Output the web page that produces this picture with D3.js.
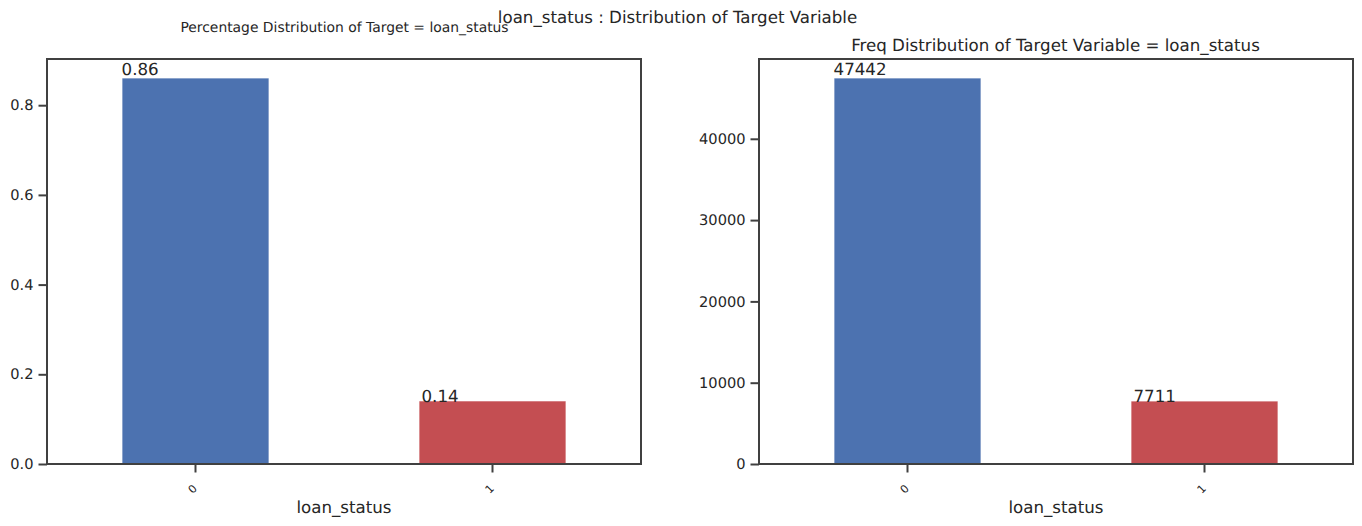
<!DOCTYPE html>
<html>
<head>
<meta charset="utf-8">
<script src="https://cdn.jsdelivr.net/npm/d3@7"></script>
<style>
  html, body { margin: 0; padding: 0; background: #fff; }
  svg { display: block; }
  text { font-family: "DejaVu Sans", sans-serif; fill: #262626; text-rendering: geometricPrecision; }
</style>
</head>
<body>
<div id="chart"></div>
<script>
const categories = ["0", "1"];
const percentValues = [0.86, 0.14];
const percentLabels = ["0.86", "0.14"];
const freqValues = [47442, 7711];
const freqLabels = ["47442", "7711"];
const percentTicks = [0, 0.2, 0.4, 0.6, 0.8];
const freqTicks = [0, 10000, 20000, 30000, 40000];
const barColors = ["#4c72b0", "#c44e52"];

const svg = d3.select("#chart").append("svg")
    .attr("width", 1362).attr("height", 526);

const plotTop = 59, plotBottom = 464;

function drawPanel(left, right, values, labels, ticks, yMax, tickFormat) {
    let x = d3.scaleBand().domain(categories).range([left, right])
        .paddingInner(0.507).paddingOuter(0.2535);
    let y = d3.scaleLinear().domain([0, yMax]).range([plotBottom, plotTop]);
    let g = svg.append("g");

    // Bars
    g.selectAll("rect").data(values).enter().append("rect")
        .attr("x", (d, i) => x(categories[i]))
        .attr("y", d => y(d))
        .attr("width", x.bandwidth())
        .attr("height", d => plotBottom - y(d))
        .attr("fill", (d, i) => barColors[i])
        .attr("stroke", "#fff")
        .attr("stroke-opacity", 0.15);

    // Value labels: placed at 1.01 x the bar's corner, so the offset grows with position and height
    g.selectAll(".val").data(values).enter().append("text")
        .attr("class", "val")
        .attr("x", (d, i) => x(categories[i]) + (i - 0.25) * 0.01 * x.step())
        .attr("y", d => y(d * 1.01) + 1)
        .style("font-size", "16.67px")
        .text((d, i) => labels[i]);

    // Axes
    let yAxis = g.append("g")
        .attr("transform", `translate(${left},0)`)
        .call(d3.axisLeft(y).tickValues(ticks).tickFormat(tickFormat).tickSize(8.5).tickPadding(5));
    yAxis.selectAll("text").style("font-size", "14.6px");

    let xAxis = g.append("g")
        .attr("transform", `translate(0,${plotBottom})`)
        .call(d3.axisBottom(x).tickSize(8.5).tickPadding(6));
    xAxis.selectAll("text")
        .style("font-size", "11.1px")
        .attr("text-anchor", "end")
        .attr("dy", "0")
        .attr("transform", "translate(-8,15) rotate(-45)");

    g.selectAll(".domain").remove();
    g.selectAll(".tick line").attr("stroke", "#404040").attr("stroke-width", 2);

    // Frame
    g.append("rect")
        .attr("x", left).attr("y", plotTop)
        .attr("width", right - left).attr("height", plotBottom - plotTop)
        .attr("fill", "none").attr("stroke", "#404040").attr("stroke-width", 2);

    g.append("text")
        .attr("x", (left + right) / 2)
        .attr("y", 513)
        .attr("text-anchor", "middle")
        .style("font-size", "16.67px")
        .text("loan_status");
}

drawPanel(47, 641, percentValues, percentLabels, percentTicks, 0.903, d3.format(".1f"));
drawPanel(759, 1353, freqValues, freqLabels, freqTicks, 49814, d3.format("d"));

// Titles
svg.append("text").attr("x", 677.5).attr("y", 23)
    .attr("text-anchor", "middle").style("font-size", "16.67px")
    .text("loan_status : Distribution of Target Variable");
svg.append("text").attr("x", 344.5).attr("y", 32)
    .attr("text-anchor", "middle").style("font-size", "13.89px")
    .text("Percentage Distribution of Target = loan_status");
svg.append("text").attr("x", 1055.5).attr("y", 51)
    .attr("text-anchor", "middle").style("font-size", "16.67px")
    .text("Freq Distribution of Target Variable = loan_status");
</script>
</body>
</html>
